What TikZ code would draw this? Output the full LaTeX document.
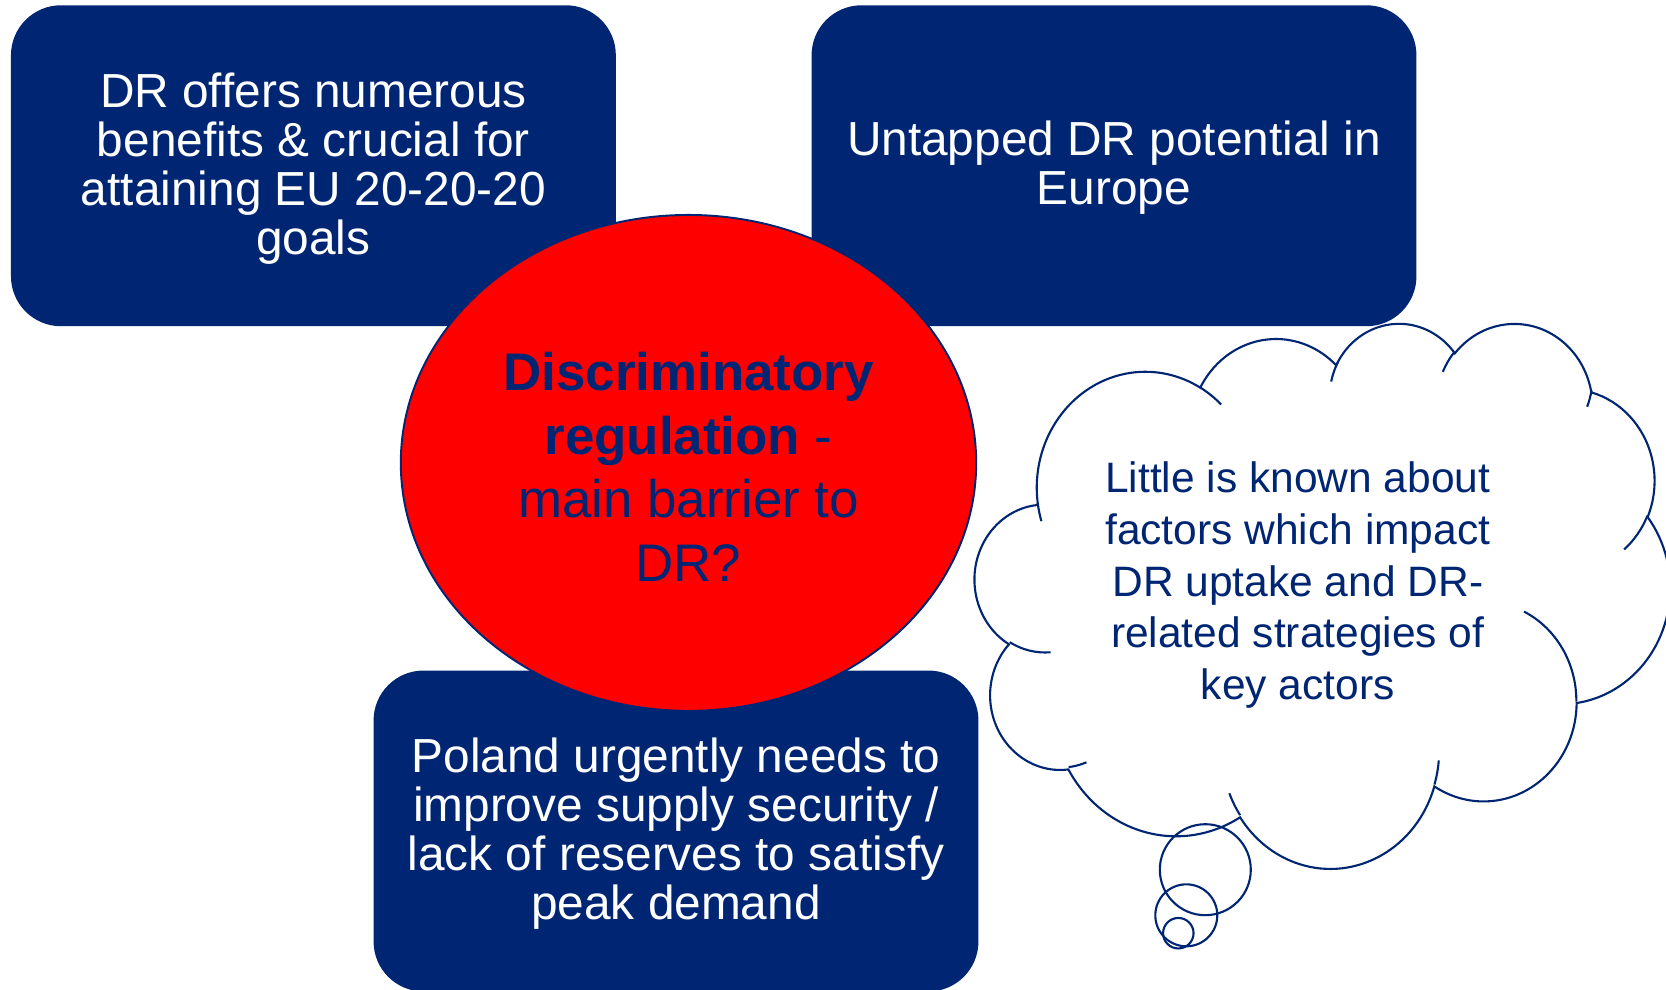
\documentclass[tikz,border=0pt]{standalone}
\usepackage{fontspec}
\setmainfont{Liberation Sans}
\usetikzlibrary{shapes.geometric}
\definecolor{dblue}{RGB}{0,38,115}
\definecolor{pred}{RGB}{255,0,0}
% OOXML cloud arc: id, wR, hR (1/100 of 43200-units), start angle, sweep (deg)
\newcommand\ooarc[5]{%
  \pgfmathsetmacro\ooA{atan2((#2)*sin(#4),(#3)*cos(#4))}%
  \pgfmathsetmacro\ooB{atan2((#2)*sin((#4)+(#5)),(#3)*cos((#4)+(#5)))}%
  \pgfmathsetmacro\ooB{ifthenelse((#5)>0,ifthenelse((\ooB)<(\ooA),(\ooB)+360,\ooB),ifthenelse((\ooB)>(\ooA),(\ooB)-360,\ooB))}%
  \pgfmathsetmacro\ooA{0-(\ooA)}%
  \pgfmathsetmacro\ooB{0-(\ooB)}%
  \pgfmathsetmacro\ooX{(#2)*0.915493}%
  \pgfmathsetmacro\ooY{(#3)*0.717906}%
  \expandafter\xdef\csname ooS#1\endcsname{\ooA}%
  \expandafter\xdef\csname ooE#1\endcsname{\ooB}%
  \expandafter\xdef\csname ooX#1\endcsname{\ooX}%
  \expandafter\xdef\csname ooY#1\endcsname{\ooY}%
}
\ooarc{ma}{67.53}{91.90}{-190.48748}{123.78053}
\ooarc{mb}{53.33}{72.67}{-144.10238}{89.94523}
\ooarc{mc}{43.65}{59.45}{-145.80792}{99.72302}
\ooarc{md}{48.57}{65.95}{-130.98607}{117.24173}
\ooarc{me}{53.33}{72.73}{-78.70888}{109.02692}
\ooarc{mf}{67.75}{92.20}{-46.26725}{130.269}
\ooarc{mg}{57.85}{78.67}{0.62502}{114.03333}
\ooarc{mh}{67.52}{92.15}{22.4516}{115.17255}
\ooarc{mi}{77.20}{105.43}{66.24263}{75.71102}
\ooarc{mj}{43.60}{59.18}{-274.94208}{146.73557}
\ooarc{mk}{43.45}{59.45}{-246.8285}{152.51885}
\ooarc{ia}{43.45}{59.45}{86.742}{26.4295}
\ooarc{ib}{43.60}{59.18}{73.61047}{11.44747}
\ooarc{ic}{67.52}{92.15}{137.62415}{14.0811}
\ooarc{id}{67.52}{92.15}{6.45327}{15.99835}
\ooarc{ie}{57.85}{78.67}{-70.29235}{70.91737}
\ooarc{if}{53.33}{72.73}{30.31803}{27.7515}
\ooarc{ig}{48.57}{65.95}{13.74433}{14.8589}
\ooarc{ih}{48.57}{65.95}{-149.18145}{18.19537}
\ooarc{ii}{43.65}{59.45}{-163.49427}{19.50655}
\ooarc{ij}{67.53}{91.90}{-66.70695}{12.31935}
\ooarc{ik}{67.53}{91.90}{157.65435}{11.85817}
\tikzset{
  ooarc/.style={start angle=\csname ooS#1\endcsname, end angle=\csname ooE#1\endcsname,
    x radius=\csname ooX#1\endcsname pt, y radius=\csname ooY#1\endcsname pt},
  bluebox/.style={fill=dblue, rounded corners=1cm, minimum width=12.1cm, minimum height=6.42cm,
    inner sep=0pt},
  boxtext/.style={text=white, align=center, inner sep=0pt, font=\fontsize{27.2}{28}\selectfont},
  redell/.style={ellipse, draw=dblue, line width=1.1pt, fill=pred, minimum width=11.51cm,
    minimum height=9.92cm, inner sep=0pt},
  elltext/.style={text=dblue, align=center, inner sep=0pt, font=\fontsize{30.1}{36.3}\selectfont},
  cloudline/.style={draw=dblue, line width=1.2pt},
  cloudtext/.style={text=dblue, align=center, inner sep=0pt, font=\fontsize{24.2}{29.5}\selectfont},
  bubble/.style={circle, draw=dblue, line width=1.2pt, inner sep=0pt}
}
\begin{document}
\begin{tikzpicture}[x=0.02cm,y=-0.02cm]
\useasboundingbox (0,0) rectangle (1666,990);
\clip (0,0) rectangle (1666,990);
\fill[white] (0,0) rectangle (1666,990);
\node[bluebox] (b1) at (313.4,165.75) {};
\node[boxtext] (t1) at (313.4,168.5) {DR offers numerous\\benefits \& crucial for\\attaining EU 20-20-20\\goals};
\node[bluebox] (b2) at (1114,165.75) {};
\node[boxtext] (t2) at (1114,168) {Untapped DR potential in\\Europe};
\node[bluebox] (b3) at (676,831) {};
\node[boxtext] (t3) at (676,833.7) {Poland urgently needs to\\improve supply security /\\lack of reserves to satisfy\\peak demand};
\node[redell] (el) at (688.5,462.9) {};
\node[elltext] (elt) at (688.5,466.8) {\textbf{Discriminatory}\\\textbf{regulation} -\\main barrier to\\DR?};
\begin{scope}[shift={(975,322)}, x=0.0321759cm, y=-0.0252315cm]
  \coordinate (cs) at (39.00,143.70);
  \path[cloudline, fill=white] (cs) arc[ooarc=ma] arc[ooarc=mb] arc[ooarc=mc] arc[ooarc=md]
    arc[ooarc=me] arc[ooarc=mf] arc[ooarc=mg] arc[ooarc=mh] arc[ooarc=mi] arc[ooarc=mj]
    arc[ooarc=mk] -- cycle;
  \coordinate (ca) at (46.93,261.77);
  \coordinate (cb) at (69.28,348.99);
  \coordinate (cc) at (164.78,390.90);
  \coordinate (cd) at (288.27,347.51);
  \coordinate (ce) at (341.29,229.54);
  \coordinate (cf) at (417.98,153.54);
  \coordinate (cg) at (383.24,54.26);
  \coordinate (ch) at (290.78,39.52);
  \coordinate (ci) at (221.41,47.20);
  \coordinate (cj) at (140.00,51.92);
  \coordinate (ck) at (41.27,157.89);
  \path[cloudline] (ca) arc[ooarc=ia] (cb) arc[ooarc=ib] (cc) arc[ooarc=ic]
    (cd) arc[ooarc=id] (ce) arc[ooarc=ie] (cf) arc[ooarc=if] (cg) arc[ooarc=ig]
    (ch) arc[ooarc=ih] (ci) arc[ooarc=ii] (cj) arc[ooarc=ij] (ck) arc[ooarc=ik];
\end{scope}
\node[bubble, minimum size=1.82cm] (bu1) at (1205.3,869.7) {};
\node[bubble, minimum size=1.24cm] (bu2) at (1186.3,915.3) {};
\node[bubble, minimum size=0.61cm] (bu3) at (1178.3,933.2) {};
\node[cloudtext] (ct) at (1297.8,585) {Little is known about\\factors which impact\\DR uptake and DR-\\related strategies of\\key actors};
\end{tikzpicture}
\end{document}
